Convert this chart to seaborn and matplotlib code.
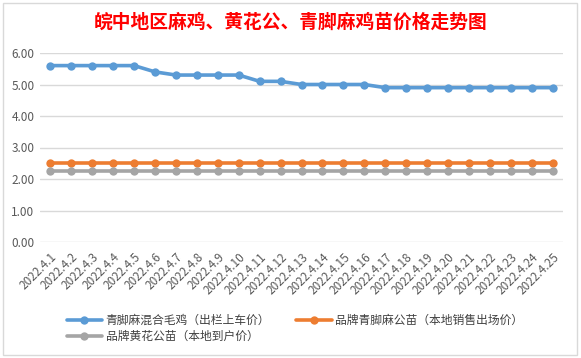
import numpy as np
import pandas as pd
import seaborn as sns
import matplotlib.pyplot as plt
from matplotlib.patches import Rectangle

# Data
dates = [f'2022.4.{d}' for d in range(1, 26)]
mixed_chick = [5.6, 5.6, 5.6, 5.6, 5.6, 5.4, 5.3, 5.3, 5.3, 5.3, 5.1, 5.1, 5.0,
               5.0, 5.0, 5.0, 4.9, 4.9, 4.9, 4.9, 4.9, 4.9, 4.9, 4.9, 4.9]
brand_qingjiao = [2.5] * 25
brand_huanghua = [2.25] * 25

series_names = ['青脚麻混合毛鸡（出栏上车价）', '品牌青脚麻公苗（本地销售出场价）', '品牌黄花公苗（本地到户价）']
colors = ['#5B9BD5', '#ED7D31', '#A5A5A5']

df = pd.DataFrame({
    'x': list(range(len(dates))) * 3,
    'price': mixed_chick + brand_qingjiao + brand_huanghua,
    'series': [series_names[0]] * 25 + [series_names[1]] * 25 + [series_names[2]] * 25,
})

sns.set_theme(style='white')
plt.rcParams['font.family'] = ['Noto Sans CJK SC', 'DejaVu Sans']

fig = plt.figure(figsize=(5.81, 3.58), dpi=100)
ax = fig.add_axes([40 / 581, 1 - 242 / 358, 523 / 581, 189 / 358])

sns.lineplot(data=df, x='x', y='price', hue='series', palette=colors,
             hue_order=series_names, marker='o', markersize=6, markeredgewidth=0,
             linewidth=2.6, ax=ax)

ax.set_xlim(-0.5, len(dates) - 0.5)
ax.set_ylim(0, 6)
ax.set_yticks(np.arange(0, 6.01, 1))
ax.set_yticklabels([f'{v:.2f}' for v in np.arange(0, 6.01, 1)])
ax.set_xticks(range(len(dates)))
ax.set_xticklabels(dates, rotation=45, ha='right', rotation_mode='anchor')
ax.tick_params(axis='both', labelsize=8.5, colors='#595959', length=0, pad=4)
ax.tick_params(axis='x', pad=6)
ax.grid(axis='y', color='#D9D9D9', linewidth=1)
ax.set_axisbelow(True)
for s in ax.spines.values():
    s.set_visible(False)
ax.set_xlabel('')
ax.set_ylabel('')

# legend fills column-wise: blue, gray in first column, orange in second
handles, labels = ax.get_legend_handles_labels()
order = [0, 2, 1]
ax.legend([handles[i] for i in order], [labels[i] for i in order],
          loc='upper left', bbox_to_anchor=(22 / 523, -0.355), ncol=2, frameon=False,
          fontsize=8.5, handlelength=3, columnspacing=2.2, labelspacing=0.25,
          handletextpad=0.3, borderaxespad=0, labelcolor='#404040')

fig.text(0.5, 1 - 22 / 358, '皖中地区麻鸡、黄花公、青脚麻鸡苗价格走势图',
         ha='center', va='center', color='red', fontsize=13.5, fontweight='bold')

fig.patches.append(Rectangle((3 / 581, 3 / 358), 574 / 581, 352 / 358,
                             transform=fig.transFigure, fill=False,
                             edgecolor='#D9D9D9', linewidth=1))

fig.savefig('out.png', dpi=100)
